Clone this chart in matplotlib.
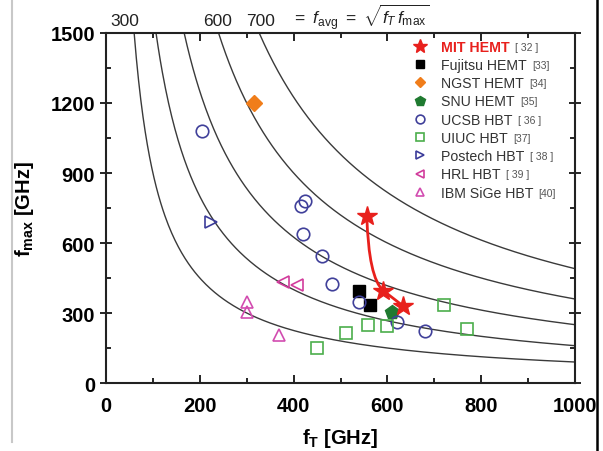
import numpy as np
import matplotlib
matplotlib.use("Agg")
import matplotlib.pyplot as plt
from matplotlib.path import Path
from matplotlib.patches import PathPatch
from matplotlib.lines import Line2D

plt.rcParams['font.family'] = ['Liberation Sans', 'DejaVu Sans']
plt.rcParams['mathtext.fontset'] = 'custom'
plt.rcParams['mathtext.rm'] = 'Liberation Sans'
plt.rcParams['mathtext.it'] = 'Liberation Sans:italic'
plt.rcParams['mathtext.bf'] = 'Liberation Sans:bold'

# iso-f_avg curves
favg_levels = [300, 400, 500, 600, 700]
favg_labels = ["300", "600", "700"]
favg_label_x = [40, 237, 330]

# data (fT, fmax) in GHz
mit_ft = [556, 591, 633]
mit_fmax = [717, 396, 331]
fujitsu_ft = [540, 563]
fujitsu_fmax = [394, 334]
ngst_ft = [316]
ngst_fmax = [1200]
snu_ft = [609]
snu_fmax = [306]
ucsb_ft = [204, 424, 415, 421, 460, 481, 539, 621, 680]
ucsb_fmax = [1079, 781, 757, 639, 543, 424, 346, 260, 222]
uiuc_ft = [449, 511, 559, 600, 721, 769]
uiuc_fmax = [148, 214, 250, 243, 334, 231]
postech_ft = [223]
postech_fmax = [689]
hrl_ft = [377, 407]
hrl_fmax = [432, 421]
ibm_ft = [300, 300, 369]
ibm_fmax = [348, 306, 207]

names = ['MIT HEMT', 'Fujitsu HEMT', 'NGST HEMT', 'SNU HEMT', 'UCSB HBT',
         'UIUC HBT', 'Postech HBT', 'HRL HBT', 'IBM SiGe HBT']
refs = ['[ 32 ]', '[33]', '[34]', '[35]', '[ 36 ]', '[37]', '[ 38 ]', '[ 39 ]', '[40]']

fig = plt.figure(figsize=(6.03, 4.52), dpi=100)
ax = fig.add_axes([0.1758, 0.1504, 0.7778, 0.7744])

for f in favg_levels:
    ft = np.linspace(f**2 / 1500.0, 1000, 400)
    ax.plot(ft, f**2 / ft, color='#3a3a3a', lw=1.0, zorder=1)

# red trend curve through MIT points
verts = [(mit_ft[0], mit_fmax[0]), (560, 450), (mit_ft[1], mit_fmax[1]),
         (mit_ft[2], mit_fmax[2])]
codes = [Path.MOVETO, Path.CURVE3, Path.CURVE3, Path.LINETO]
ax.add_patch(PathPatch(Path(verts, codes), fc='none', ec='#e8201c', lw=2.0, zorder=3))

ms = 9
h = []
h.append(ax.plot(mit_ft, mit_fmax, ls='none', marker='*', ms=15, color='#e8201c', zorder=5)[0])
h.append(ax.plot(fujitsu_ft, fujitsu_fmax, ls='none', marker='s', ms=8, color='black', zorder=4)[0])
h.append(ax.plot(ngst_ft, ngst_fmax, ls='none', marker='D', ms=8, color='#f07d1a', zorder=4)[0])
h.append(ax.plot(snu_ft, snu_fmax, ls='none', marker='p', ms=10, color='#1f7a30', zorder=4)[0])
h.append(ax.plot(ucsb_ft, ucsb_fmax, ls='none', marker='o', ms=ms, mfc='none',
                 mec='#40409a', mew=1.2, zorder=4)[0])
h.append(ax.plot(uiuc_ft, uiuc_fmax, ls='none', marker='s', ms=8, mfc='none',
                 mec='#4cae4c', mew=1.2, zorder=4)[0])
h.append(ax.plot(postech_ft, postech_fmax, ls='none', marker='>', ms=ms, mfc='none',
                 mec='#3c3c9a', mew=1.2, zorder=4)[0])
h.append(ax.plot(hrl_ft, hrl_fmax, ls='none', marker='<', ms=ms, mfc='none',
                 mec='#d23c9c', mew=1.2, zorder=4)[0])
h.append(ax.plot(ibm_ft, ibm_fmax, ls='none', marker='^', ms=ms, mfc='none',
                 mec='#d24cb0', mew=1.2, zorder=4)[0])

leg = ax.legend(h, names, loc='upper left', bbox_to_anchor=(0.633, 1.005), frameon=False,
                fontsize=10.2, handlelength=1.2, handletextpad=0.9, labelspacing=0.3,
                borderaxespad=0.2, markerscale=0.7)
for t in leg.get_texts():
    t.set_color('#333333')
leg.get_texts()[0].set_color('#e8201c')
leg.get_texts()[0].set_fontweight('bold')

ax.set_xlim(0, 1000)
ax.set_ylim(0, 1500)
ax.set_xticks(range(0, 1001, 200))
ax.set_xticks(range(0, 1001, 100), minor=True)
ax.set_yticks(range(0, 1501, 300))
ax.set_yticks(range(0, 1501, 150), minor=True)
for s in ax.spines.values():
    s.set_linewidth(1.5)
    s.set_color('#222222')
ax.tick_params(which='both', top=True, right=True, direction='in', width=1.2)
ax.tick_params(which='major', length=6, labelsize=14.5, pad=4)
ax.tick_params(which='minor', length=3.5)
ax.tick_params(axis='x', which='major', pad=9)
ax.tick_params(axis='y', which='major', direction='inout', length=8)
for lab in ax.get_xticklabels() + ax.get_yticklabels():
    lab.set_fontweight('bold')

ax.set_xlabel(r'$\mathbf{f_{T}}$ [GHz]', fontsize=14.5, fontweight='bold', labelpad=8)
ax.set_ylabel(r'$\mathbf{f_{max}}$ [GHz]', fontsize=14.5, fontweight='bold', labelpad=10)

for lbl, x in zip(favg_labels, favg_label_x):
    ax.text(x, 1.015, lbl, transform=ax.get_xaxis_transform(), ha='center', va='bottom',
            fontsize=12.5, color='#222222', clip_on=False)
ax.text(396, 1.006, r'$=\ f_{\rm avg}\ =\ \sqrt{f_T\, f_{\max}}$', transform=ax.get_xaxis_transform(),
        ha='left', va='bottom', fontsize=12.5, color='#222222', clip_on=False)

# small reference numbers after each legend label
fig.canvas.draw()
r = fig.canvas.get_renderer()
for t, ref in zip(leg.get_texts(), refs):
    bb = t.get_window_extent(r)
    fig.text((bb.x1 + 5) / fig.bbox.width, (bb.y0 + bb.y1) / 2 / fig.bbox.height, ref,
             ha='left', va='center', fontsize=7.5, color='#555555')

# border lines of the original image
fig.add_artist(Line2D([12 / 603, 12 / 603], [0.02, 1.0], color='#c8c8c8', lw=1.5))
fig.add_artist(Line2D([597 / 603, 597 / 603], [0.0, 1.0], color='black', lw=1.8))

fig.savefig('out.png', dpi=100)
